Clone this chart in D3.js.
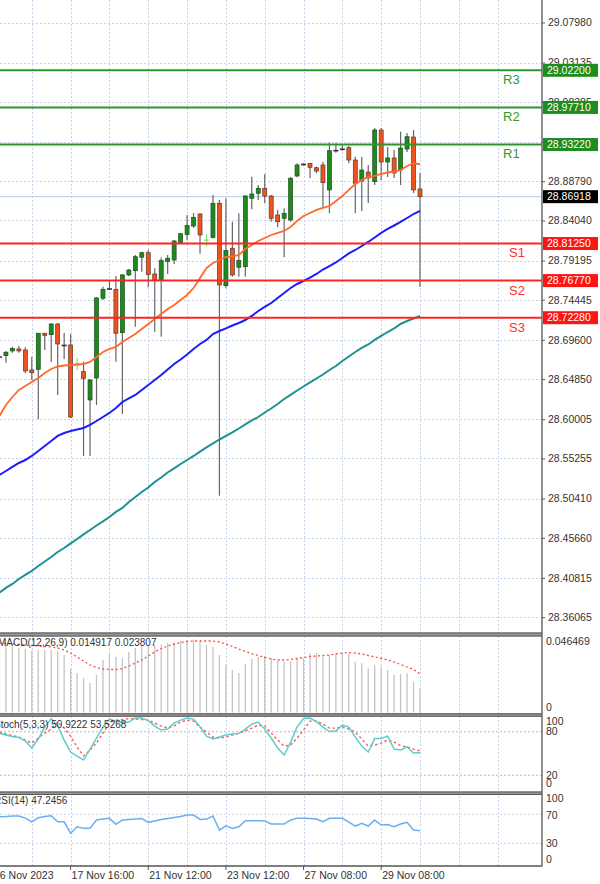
<!DOCTYPE html>
<html><head><meta charset="utf-8">
<script src="https://cdn.jsdelivr.net/npm/d3@7"></script>
<style>body{margin:0;background:#fff;overflow:hidden;} svg{display:block;font-family:"Liberation Sans",Arial,sans-serif;}</style>
</head><body><svg id="c" width="600" height="884"></svg>
<script>
// ---------- DATA ----------
const opens = [28.6747,28.6769,28.6826,28.6850,28.6838,28.6596,28.6604,28.7040,28.7023,28.7152,
28.6898,28.6898,28.6656,28.6575,28.6233,28.6499,28.7463,28.7581,28.7569,28.7047,
28.7745,28.7797,28.7959,28.8014,28.7757,28.7688,28.7906,28.7926,28.8132,28.8234,
28.8337,28.8482,28.8162,28.8198,28.8612,28.7615,28.8068,28.7838,28.7845,28.8672,
28.8733,28.8793,28.8700,28.8470,28.8430,28.8410,28.8942,28.9083,28.9095,28.9042,
28.9075,28.8773,28.9250,28.9268,28.9284,28.9135,28.8881,28.8990,28.8873,28.9498,
28.9111,28.9160,28.9014,28.9268,28.9413,28.8785];
const highs = [28.6777,28.6826,28.6878,28.6886,28.6870,28.6757,28.7043,28.7043,28.7161,28.7164,
28.7043,28.7031,28.6741,28.6696,28.6487,28.7479,28.7603,28.7672,28.7733,28.7757,
28.7817,28.7987,28.8026,28.8047,28.7826,28.7956,28.7987,28.8168,28.8253,28.8470,
28.8494,28.8491,28.8240,28.8712,28.8652,28.8672,28.8389,28.8491,28.8712,28.8933,
28.8833,28.8966,28.8712,28.8531,28.8551,28.8930,28.9095,28.9095,28.9099,28.9054,
28.9115,28.9345,28.9337,28.9308,28.9308,28.9175,28.9172,28.9075,28.9522,28.9522,
28.9293,28.9256,28.9478,28.9462,28.9498,28.8978];
const lows = [28.6717,28.6684,28.6805,28.6805,28.6556,28.6475,28.6000,28.6838,28.6693,28.6294,
28.6729,28.6012,28.6596,28.5556,28.5556,28.6173,28.7442,28.7563,28.6696,28.6064,
28.7733,28.7119,28.7785,28.7596,28.7059,28.6999,28.7757,28.7878,28.8120,28.8168,
28.8313,28.8002,28.8089,28.8186,28.5076,28.7584,28.7724,28.7724,28.7724,28.8539,
28.8652,28.8612,28.8389,28.8322,28.7959,28.8389,28.8926,28.9066,28.8914,28.8975,
28.8551,28.8491,28.9224,28.9248,28.9095,28.8491,28.8519,28.8615,28.8833,28.8894,
28.8930,28.8918,28.8833,28.9232,28.8736,28.7600];
const closes = [28.6753,28.6810,28.6856,28.6826,28.6584,28.6563,28.7040,28.7015,28.7152,28.6910,
28.6892,28.6027,28.6668,28.6495,28.6475,28.7467,28.7572,28.7575,28.7040,28.7745,
28.7805,28.7966,28.8014,28.7751,28.7688,28.7918,28.7947,28.8156,28.8244,28.8343,
28.8442,28.8228,28.8168,28.8612,28.7624,28.8039,28.7745,28.7918,28.8700,28.8724,
28.8793,28.8700,28.8430,28.8389,28.8491,28.8914,28.9075,28.9081,28.9047,28.9002,
28.8861,28.9248,28.9248,28.9265,28.9135,28.8854,28.9014,28.8918,28.9498,28.9111,
28.9160,28.8978,28.9280,28.9417,28.8773,28.86918];
const unchangedBars = [12, 32];

const maFast = [28.6039,28.6173,28.6269,28.6354,28.6402,28.6451,28.6499,28.6560,28.6608,28.6638,
28.6650,28.6656,28.6662,28.6668,28.6693,28.6753,28.6813,28.6850,28.6874,28.6934,
28.6983,28.7031,28.7092,28.7152,28.7213,28.7273,28.7334,28.7382,28.7442,28.7503,
28.7587,28.7708,28.7829,28.7890,28.7926,28.7962,28.7968,28.7987,28.8059,28.8107,
28.8156,28.8192,28.8228,28.8253,28.8277,28.8325,28.8398,28.8458,28.8494,28.8531,
28.8555,28.8579,28.8640,28.8700,28.8773,28.8845,28.8894,28.8930,28.8942,28.8966,
28.8984,28.8996,28.9014,28.9063,28.9093,28.9087];
const maMid = [28.5326,28.5374,28.5423,28.5471,28.5507,28.5556,28.5616,28.5677,28.5737,28.5798,
28.5834,28.5858,28.5876,28.5894,28.5931,28.5979,28.6027,28.6076,28.6136,28.6209,
28.6251,28.6294,28.6354,28.6414,28.6475,28.6535,28.6602,28.6668,28.6723,28.6783,
28.6850,28.6910,28.6959,28.7031,28.7067,28.7098,28.7134,28.7164,28.7200,28.7249,
28.7309,28.7358,28.7406,28.7467,28.7527,28.7587,28.7636,28.7672,28.7714,28.7757,
28.7811,28.7853,28.7896,28.7950,28.8005,28.8047,28.8095,28.8144,28.8198,28.8253,
28.8301,28.8343,28.8386,28.8434,28.8482,28.8519];
const maSlow = [28.3903,28.3960,28.4008,28.4068,28.4117,28.4165,28.4226,28.4280,28.4334,28.4395,
28.4443,28.4498,28.4552,28.4607,28.4661,28.4715,28.4764,28.4818,28.4879,28.4927,
28.5000,28.5060,28.5120,28.5175,28.5241,28.5296,28.5356,28.5405,28.5459,28.5507,
28.5556,28.5608,28.5659,28.5707,28.5755,28.5798,28.5840,28.5888,28.5937,28.5985,
28.6027,28.6082,28.6130,28.6185,28.6245,28.6294,28.6348,28.6396,28.6445,28.6493,
28.6541,28.6596,28.6644,28.6705,28.6759,28.6813,28.6862,28.6904,28.6959,28.7007,
28.7055,28.7098,28.7152,28.7188,28.7219,28.7249];

const macdHist = [0.04155,0.04093,0.04062,0.03970,0.03908,0.03816,0.03847,0.03847,0.03847,0.03785,
0.03539,0.02677,0.02431,0.02123,0.01816,0.02308,0.03231,0.03601,0.03416,0.03354,
0.03724,0.03970,0.04093,0.04093,0.04155,0.04185,0.04278,0.04309,0.04401,0.04462,
0.04493,0.04339,0.04155,0.04032,0.03539,0.02924,0.02616,0.02431,0.02985,0.03293,
0.03416,0.03478,0.03354,0.03170,0.03108,0.03170,0.03354,0.03354,0.03644,0.03681,
0.03434,0.03539,0.03644,0.03644,0.03644,0.03127,0.03028,0.02721,0.02924,0.02819,
0.02616,0.02308,0.02370,0.02413,0.01896,0.014917];
const macdSignal = [0.04278,0.04247,0.04216,0.04185,0.04155,0.04124,0.04093,0.04062,0.04032,0.03970,
0.03847,0.03662,0.03416,0.03170,0.02924,0.02770,0.02677,0.02647,0.02647,0.02708,
0.02862,0.03047,0.03231,0.03478,0.03724,0.03939,0.04093,0.04216,0.04309,0.04370,
0.04401,0.04401,0.04401,0.04401,0.04339,0.04216,0.04062,0.03908,0.03755,0.03631,
0.03508,0.03385,0.03293,0.03231,0.03231,0.03262,0.03324,0.03385,0.03447,0.03478,
0.03508,0.03539,0.03601,0.03662,0.03693,0.03662,0.03601,0.03508,0.03416,0.03324,
0.03231,0.03108,0.02954,0.02801,0.02647,0.023807];
const macdTop = 0.046469;

const stochMain = [77.7,75.4,73.3,72.2,67.1,57.5,69.9,86.4,98.1,87.8,
68.5,52.0,46.5,41.0,56.1,71.3,86.4,97.4,94.6,92.6,
93.3,98.8,98.8,95.3,87.8,82.3,83.6,91.9,96.0,98.8,
97.4,86.8,74.0,69.9,72.6,75.4,76.8,77.7,83.6,90.5,
93.3,83.6,71.3,57.5,47.9,65.7,86.4,98.1,98.8,93.9,
86.4,80.2,80.9,89.1,86.4,72.6,60.2,52.0,70.6,70.6,
74.0,56.1,54.7,59.3,50.6,50.9222];
const stochSignal = [79.5,76.8,74.7,72.6,68.5,64.4,71.3,78.1,83.6,93.3,
85.0,74.0,58.9,46.5,54.7,64.4,78.1,91.9,96.0,96.7,
98.1,97.4,96.7,96.0,91.9,87.8,85.0,87.8,93.3,96.0,
94.6,86.4,79.5,72.6,71.3,72.6,75.4,78.1,80.9,85.0,
89.1,87.8,78.1,68.5,60.2,61.6,71.3,82.3,94.6,94.6,
90.5,85.0,85.0,86.4,83.6,79.5,69.9,60.2,61.6,64.4,
68.5,65.7,60.9,58.9,56.1,53.5268];
const stochLevels = [20, 80];

const rsiValues = [66.6,66.9,67.6,67.6,64.8,59.7,65.2,66.9,68.0,59.7,
59.7,43.7,52.8,50.6,50.6,62.1,63.4,64.4,56.1,62.1,
62.8,63.4,64.1,58.9,60.7,62.8,64.1,65.5,66.9,69.0,
69.0,63.0,63.4,67.6,48.3,54.2,50.6,52.8,61.1,61.1,
61.1,60.7,56.6,56.6,56.6,62.1,64.4,64.4,64.1,63.4,
59.7,64.4,64.4,64.4,59.3,53.8,57.5,53.8,62.1,55.2,
55.9,52.8,56.6,58.9,48.3,47.2456];
const rsiLevels = [30, 70];

const priceTicks = [29.07980,29.03135,28.98385,28.93540,28.88790,28.84040,28.79195,28.74445,
28.69600,28.64850,28.60005,28.55255,28.50410,28.45660,28.40815,28.36065];
const dateTickBars = [-1, 11, 23, 35, 47, 59];
const dateLabels = ["16 Nov 2023","17 Nov 16:00","21 Nov 12:00","23 Nov 12:00","27 Nov 08:00","29 Nov 08:00"];
const gridBars = [5,11,17,23,29,35,41,47,53,59,65,71,77];

const levelNames = ["R3","R2","R1","S1","S2","S3"];
const levelValues = [29.02200, 28.97710, 28.93220, 28.81250, 28.76770, 28.72280];
const lastPrice = 28.86918;

// ---------- SCALES ----------
const AX = 542;
const xS = d3.scaleLinear().domain([0, 65]).range([-0.55, 420]);
const yMain = d3.scaleLinear().domain([28.3427, 29.10702]).range([632, 0]);
const yMacd = d3.scaleLinear().domain([0, macdTop]).range([712.5, 637]);
const yStoch = d3.scaleLinear().domain([0, 100]).range([789.8, 717.2]);
const yRsi = d3.scaleLinear().domain([0, 100]).range([865, 792.6]);

const svg = d3.select("#c");
const defs = svg.append("defs");
defs.append("clipPath").attr("id","cm").append("rect").attr("x",0).attr("y",0).attr("width",AX).attr("height",632);

const gridCol = "#c4d2ea";
svg.append("g").selectAll("line").data(gridBars).join("line")
  .attr("x1", d => Math.round(xS(d)) + 0.5).attr("x2", d => Math.round(xS(d)) + 0.5)
  .attr("y1", 0).attr("y2", 866)
  .attr("stroke", gridCol).attr("stroke-dasharray", "2,2");
svg.append("g").selectAll("line").data(priceTicks).join("line")
  .attr("x1", 0).attr("x2", AX)
  .attr("y1", d => Math.round(yMain(d)) + 0.5).attr("y2", d => Math.round(yMain(d)) + 0.5)
  .attr("stroke", gridCol).attr("stroke-dasharray", "2,2");

const ax = svg.append("g").attr("transform", `translate(${AX},0)`)
  .call(d3.axisRight(yMain).tickValues(priceTicks).tickFormat(d3.format(".5f")).tickSize(3).tickPadding(3));
ax.select(".domain").remove();
ax.attr("font-family", "Liberation Sans, Arial, sans-serif").attr("font-size", 10.5);
ax.selectAll("text").attr("fill", "#333");
ax.selectAll("line").attr("stroke", "#555");

svg.append("line").attr("x1", 0).attr("x2", AX)
  .attr("y1", yMain(lastPrice)).attr("y2", yMain(lastPrice))
  .attr("stroke", "#b8cde8").attr("stroke-width", 1);

const bars = d3.range(opens.length).map(i => ({i, o: opens[i], h: highs[i], l: lows[i], c: closes[i]}));
const cg = svg.append("g").attr("clip-path", "url(#cm)");
const bw = 4;
bars.forEach(b => {
  const x = xS(b.i);
  const lime = unchangedBars.includes(b.i);
  const doji = Math.abs(b.o - b.c) < 0.0007;
  cg.append("line").attr("x1", x).attr("x2", x).attr("y1", yMain(b.h)).attr("y2", yMain(b.l))
    .attr("stroke", lime ? "#7ee87e" : "#666").attr("stroke-width", 1.2);
  if (lime) {
    cg.append("line").attr("x1", x - bw/2).attr("x2", x + bw/2).attr("y1", yMain(b.o)).attr("y2", yMain(b.o))
      .attr("stroke", "#7ee87e").attr("stroke-width", 1.2);
    cg.append("line").attr("x1", x - bw/2).attr("x2", x + bw/2).attr("y1", yMain(b.c)).attr("y2", yMain(b.c))
      .attr("stroke", "#7ee87e").attr("stroke-width", 1.2);
  } else if (doji) {
    cg.append("line").attr("x1", x - bw/2 - 0.5).attr("x2", x + bw/2 + 0.5).attr("y1", yMain(b.c)).attr("y2", yMain(b.c))
      .attr("stroke", "#333").attr("stroke-width", 1.6);
  } else {
    const up = b.c > b.o;
    const top = yMain(Math.max(b.o, b.c)), bot = yMain(Math.min(b.o, b.c));
    cg.append("rect").attr("x", x - bw/2).attr("y", top).attr("width", bw).attr("height", Math.max(1.5, bot - top))
      .attr("fill", up ? "#1e8a1e" : "#f0521c").attr("stroke", up ? "#1d4d1d" : "#5a3a30").attr("stroke-width", 0.7);
  }
});

const mkLine = (ys) => d3.line().x((d, i) => xS(i)).y(d => ys(d)).curve(d3.curveLinear);
cg.append("path").datum(maSlow).attr("d", mkLine(yMain)).attr("fill", "none").attr("stroke", "#1f9090").attr("stroke-width", 2);
cg.append("path").datum(maMid).attr("d", mkLine(yMain)).attr("fill", "none").attr("stroke", "#1c1cff").attr("stroke-width", 2);
cg.append("path").datum(maFast).attr("d", mkLine(yMain)).attr("fill", "none").attr("stroke", "#ff6a2a").attr("stroke-width", 1.8);

const lv = levelNames.map((n, k) => ({n, v: levelValues[k], r: n[0] === "R"}));
svg.append("g").selectAll("line").data(lv).join("line")
  .attr("x1", 0).attr("x2", AX).attr("y1", d => yMain(d.v)).attr("y2", d => yMain(d.v))
  .attr("stroke", d => d.r ? "#2c962c" : "#ff2424").attr("stroke-width", 2);
svg.append("g").selectAll("text").data(lv).join("text")
  .attr("x", d => d.r ? 503 : 509).attr("y", d => yMain(d.v) + 10.5)
  .attr("dominant-baseline", "middle").attr("font-size", 13)
  .attr("fill", d => d.r ? "#2f9a2f" : "#ff3030").text(d => d.n);
const boxes = svg.append("g");
lv.forEach(d => {
  const y = yMain(d.v);
  boxes.append("rect").attr("x", AX + 1).attr("y", y - 6.5).attr("width", 55).attr("height", 13)
    .attr("fill", d.r ? "#1e8c1e" : "#ff1414");
  boxes.append("text").attr("x", AX + 5).attr("y", y + 0.5).attr("dominant-baseline", "middle")
    .attr("font-size", 10.5).attr("fill", "#fff").text(d3.format(".5f")(d.v));
});
{
  const y = yMain(lastPrice);
  boxes.append("rect").attr("x", AX + 1).attr("y", y - 6.5).attr("width", 55).attr("height", 13).attr("fill", "#000");
  boxes.append("text").attr("x", AX + 5).attr("y", y + 0.5).attr("dominant-baseline", "middle")
    .attr("font-size", 10.5).attr("fill", "#fff").text(d3.format(".5f")(lastPrice));
}

svg.append("g").selectAll("line").data(macdHist).join("line")
  .attr("x1", (d, i) => xS(i)).attr("x2", (d, i) => xS(i))
  .attr("y1", yMacd(0)).attr("y2", d => yMacd(d))
  .attr("stroke", "#c4c4c4").attr("stroke-width", 1.3);
svg.append("path").datum(macdSignal).attr("d", mkLine(yMacd)).attr("fill", "none")
  .attr("stroke", "#ff4a4a").attr("stroke-width", 1.3).attr("stroke-dasharray", "2,2.5");

svg.append("g").selectAll("line").data(stochLevels).join("line")
  .attr("x1", 0).attr("x2", AX).attr("y1", d => yStoch(d)).attr("y2", d => yStoch(d))
  .attr("stroke", "#b8b8b8").attr("stroke-dasharray", "2,2");
svg.append("path").datum(stochSignal).attr("d", mkLine(yStoch)).attr("fill", "none")
  .attr("stroke", "#ff5a5a").attr("stroke-width", 1.4).attr("stroke-dasharray", "2.5,2.5");
svg.append("path").datum(stochMain).attr("d", mkLine(yStoch)).attr("fill", "none")
  .attr("stroke", "#5ccccc").attr("stroke-width", 1.5);

svg.append("g").selectAll("line").data(rsiLevels).join("line")
  .attr("x1", 0).attr("x2", AX).attr("y1", d => yRsi(d)).attr("y2", d => yRsi(d))
  .attr("stroke", gridCol).attr("stroke-dasharray", "2,2");
svg.append("path").datum(rsiValues).attr("d", mkLine(yRsi)).attr("fill", "none")
  .attr("stroke", "#6aaef2").attr("stroke-width", 1.5);

const sepG = svg.append("g");
[[632.5, 636.5], [713.3, 716.7], [791.5, 795]].forEach(([a, b]) => {
  sepG.append("rect").attr("x", 0).attr("y", a).attr("width", AX).attr("height", b - a).attr("fill", "#9a9a9a");
  sepG.append("line").attr("x1", 0).attr("x2", AX).attr("y1", a + 0.5).attr("y2", a + 0.5).attr("stroke", "#555");
  sepG.append("line").attr("x1", 0).attr("x2", AX).attr("y1", b - 0.5).attr("y2", b - 0.5).attr("stroke", "#555");
});
sepG.append("line").attr("x1", 0).attr("x2", AX).attr("y1", 866).attr("y2", 866).attr("stroke", "#555").attr("stroke-width", 1.5);
sepG.append("line").attr("x1", AX).attr("x2", AX).attr("y1", 0).attr("y2", 866.5).attr("stroke", "#6a6a6a").attr("stroke-width", 1.5);

const lab = svg.append("g").attr("font-size", 10.5).attr("fill", "#333");
const subLabels = [
  [yMacd(macdTop) + 5.5, d3.format(".6f")(macdTop)], [yMacd(0) - 4.5, "0"],
  [yStoch(100) + 5.5, "100"], [yStoch(80) + 0.5, "80"], [yStoch(20) + 0.5, "20"], [yStoch(0) - 5.5, "0"],
  [yRsi(100) + 7, "100"], [yRsi(70) + 1.5, "70"], [yRsi(30) + 1, "30"], [yRsi(0) - 5, "0"]
];
subLabels.forEach(([y, t]) => lab.append("text").attr("x", AX + 4).attr("y", y).attr("dominant-baseline", "middle").text(t));

const tt = svg.append("g").attr("font-size", 10).attr("fill", "#333");
tt.append("text").attr("x", -2).attr("y", 643.5).attr("dominant-baseline", "middle")
  .text(`MACD(12,26,9) ${d3.format(".6f")(macdHist[macdHist.length-1])} ${d3.format(".6f")(macdSignal[macdSignal.length-1])}`);
tt.append("text").attr("x", -6).attr("y", 725).attr("dominant-baseline", "middle")
  .text(`Stoch(5,3,3) ${d3.format(".4f")(stochMain[stochMain.length-1])} ${d3.format(".4f")(stochSignal[stochSignal.length-1])}`);
tt.append("text").attr("x", -6).attr("y", 801.5).attr("dominant-baseline", "middle")
  .text(`RSI(14) ${d3.format(".4f")(rsiValues[rsiValues.length-1])}`);

const dg = svg.append("g");
dateTickBars.forEach((b, k) => {
  const x = xS(b);
  dg.append("line").attr("x1", x).attr("x2", x).attr("y1", 866).attr("y2", 870).attr("stroke", "#555");
  dg.append("text").attr("x", x + 1).attr("y", 876.5).attr("dominant-baseline", "middle")
    .attr("font-size", 10.5).attr("fill", "#333").text(dateLabels[k]);
});
</script></body></html>
